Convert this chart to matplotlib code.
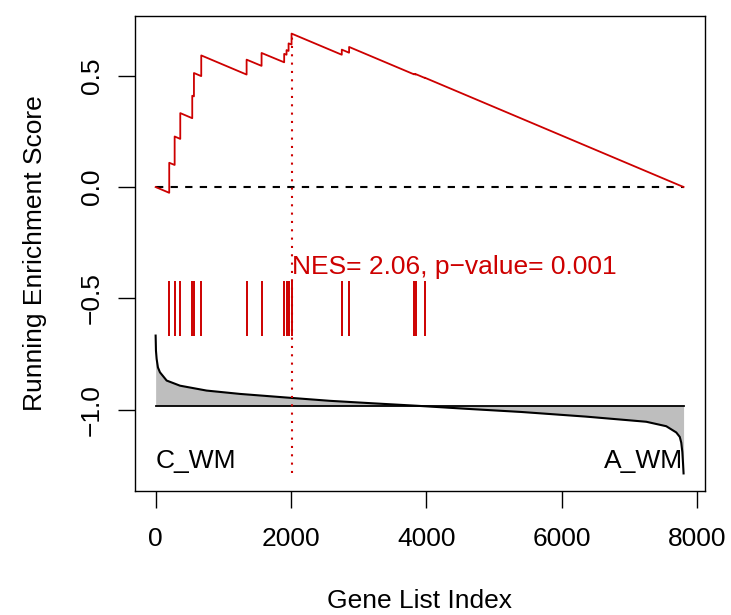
import matplotlib
import matplotlib.pyplot as plt

plt.switch_backend("agg")
plt.rcParams["font.family"] = ["Liberation Sans", "DejaVu Sans"]

# gene set hits along the ranked list
HITS = [202, 282, 365, 542, 567, 675, 1345, 1566, 1900, 1935, 1965,
        2009, 2751, 2859, 3818, 3843, 3976]
# running enrichment score just before / after each hit
ES_BEFORE = [-0.026, 0.099, 0.216, 0.309, 0.407, 0.498, 0.505, 0.544, 0.560,
             0.594, 0.611, 0.640, 0.594, 0.603, 0.506, 0.505, 0.490]
ES_AFTER = [0.109, 0.227, 0.332, 0.410, 0.512, 0.591, 0.572, 0.602, 0.598,
            0.615, 0.645, 0.689, 0.617, 0.629, 0.508, 0.507, 0.491]
N_GENES = 7800
ES_START = 0.0
ES_END = 0.0

# ranked list metric (shifted/scaled into the lower panel)
METRIC_IDX = [1, 6, 16, 35, 65, 164, 361, 754, 1246, 2009, 2574, 3200, 3850,
              4600, 5400, 6363, 7249, 7544, 7692, 7744, 7766, 7782, 7792, 7800]
METRIC_VAL = [-0.667, -0.735, -0.772, -0.810, -0.832, -0.869, -0.892, -0.914,
              -0.929, -0.947, -0.960, -0.971, -0.982, -0.996, -1.010, -1.031,
              -1.054, -1.074, -1.102, -1.122, -1.148, -1.190, -1.240, -1.286]
BASELINE = -0.982

HIT_TOP = -0.42
HIT_BOTTOM = -0.67
NES_LABEL = "NES= 2.06, p\u2212value= 0.001"
NES_Y = -0.36
LEFT_LABEL = "C_WM"
RIGHT_LABEL = "A_WM"

RED = "#CD0000"
FS = 19

# step curve from hits
es_x = [1]
es_y = [ES_START]
for h, b, a in zip(HITS, ES_BEFORE, ES_AFTER):
    es_x += [h, h]
    es_y += [b, a]
es_x.append(N_GENES)
es_y.append(ES_END)

fig = plt.figure(figsize=(7.31, 6.15), dpi=100)
ax = fig.add_axes([0.184, 0.2016, 0.78, 0.7724])

ax.fill_between(METRIC_IDX, METRIC_VAL, BASELINE, color="#BEBEBE", linewidth=0)
ax.plot(METRIC_IDX, METRIC_VAL, color="black", linewidth=1.5)
ax.plot([1, N_GENES], [BASELINE, BASELINE], color="black", linewidth=1.3)

ax.plot([1, N_GENES], [0, 0], color="black", linewidth=1.5,
        linestyle=(0, (3.5, 3.5)))
ax.plot(es_x, es_y, color=RED, linewidth=1.3)

peak = HITS[ES_AFTER.index(max(ES_AFTER))]
ax.plot([peak, peak], [min(METRIC_VAL), max(ES_AFTER)], color=RED,
        linewidth=1.5, linestyle=(0, (1, 3)))

ax.vlines(HITS, HIT_BOTTOM, HIT_TOP, color=RED, linewidth=1.4)

ax.text(peak, NES_Y, NES_LABEL, color=RED, fontsize=FS, ha="left", va="center")
ax.text(1, min(METRIC_VAL), LEFT_LABEL, fontsize=FS, ha="left", va="bottom")
ax.text(N_GENES, min(METRIC_VAL), RIGHT_LABEL, fontsize=FS, ha="right", va="bottom")

ax.set_xlim(-311, 8112)
ax.set_ylim(-1.365, 0.768)
ax.set_xticks([0, 2000, 4000, 6000, 8000])
ax.set_yticks([-1.0, -0.5, 0.0, 0.5])
ax.set_yticklabels(["\u22121.0", "\u22120.5", "0.0", "0.5"], rotation=90, va="center")
ax.tick_params(length=12, width=1.0, labelsize=FS)
ax.tick_params(axis="x", pad=14)
ax.tick_params(axis="y", pad=10)
for sp in ax.spines.values():
    sp.set_linewidth(1.0)

ax.set_xlabel("Gene List Index", fontsize=FS, labelpad=27)
ax.set_ylabel("Running Enrichment Score", fontsize=FS, labelpad=24)

fig.savefig("out.png", dpi=100)
